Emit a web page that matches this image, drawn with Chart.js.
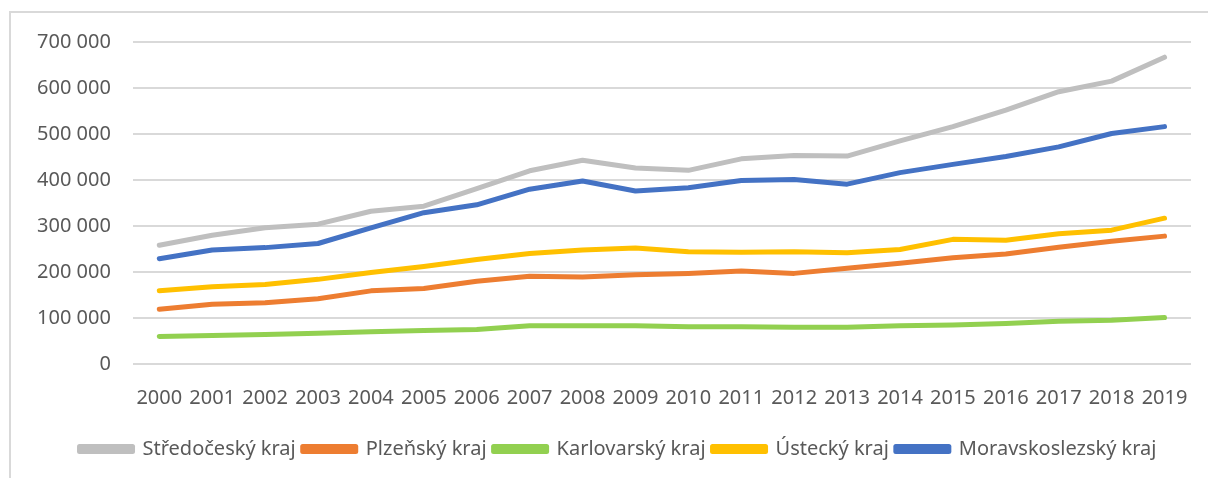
<!DOCTYPE html>
<html>
<head>
<meta charset="utf-8">
<script src="https://cdn.jsdelivr.net/npm/chart.js@4"></script>
<style>
    html, body { margin: 0; padding: 0; background: #fff; overflow: hidden; }
    #frame {
        position: absolute; left: 9px; top: 11px; width: 1216px; height: 480px;
        border-left: 2px solid #d9d9d9; border-top: 2px solid #d9d9d9;
    }
    #wrap { position: absolute; left: 0; top: -5px; width: 1214px; height: 472px; }
</style>
</head>
<body>
<div id="frame"><div id="wrap"><canvas id="chart"></canvas></div></div>
<script>
const years = ['2000', '2001', '2002', '2003', '2004', '2005', '2006', '2007', '2008', '2009',
    '2010', '2011', '2012', '2013', '2014', '2015', '2016', '2017', '2018', '2019'];

const stredocesky = [258000, 280000, 296000, 304000, 332000, 343000, 381000, 420000, 443000, 426000,
    421000, 446000, 453000, 452000, 485000, 516000, 552000, 592000, 615000, 667000];
const plzensky = [119000, 130000, 133000, 142000, 159000, 164000, 180000, 191000, 189000, 194000,
    197000, 202000, 197000, 208000, 219000, 231000, 239000, 254000, 267000, 278000];
const karlovarsky = [60000, 62000, 64000, 67000, 70000, 73000, 75000, 83000, 83000, 83000,
    81000, 81000, 80000, 80000, 83000, 85000, 88000, 93000, 95000, 101000];
const ustecky = [159000, 168000, 173000, 184000, 199000, 212000, 227000, 240000, 248000, 252000,
    244000, 243000, 244000, 242000, 249000, 271000, 269000, 283000, 291000, 317000];
const moravskoslezsky = [229000, 248000, 253000, 262000, 296000, 329000, 346000, 380000, 398000, 376000,
    383000, 399000, 401000, 391000, 416000, 434000, 451000, 472000, 501000, 516000];

const seriesNames = ['Středočeský kraj', 'Plzeňský kraj', 'Karlovarský kraj', 'Ústecký kraj', 'Moravskoslezský kraj'];
const seriesColors = ['#bfbfbf', '#ed7d31', '#92d050', '#ffc000', '#4472c4'];
const seriesData = [stredocesky, plzensky, karlovarsky, ustecky, moravskoslezsky];

const textColor = '#595959';

function line(i) {
    return {
        label: seriesNames[i],
        data: seriesData[i],
        borderColor: seriesColors[i],
        backgroundColor: seriesColors[i],
        borderWidth: 5,
        borderCapStyle: 'round',
        borderJoinStyle: 'round',
        pointRadius: 0,
        tension: 0,
        order: seriesNames.length - i   // later series drawn on top, like Excel
    };
}

// legend in the original sits a bit right of the canvas centre
const legendShift = {
    id: 'legendShift',
    afterLayout(chart) {
        chart.legend.left += 15;
        chart.legend.right += 15;
    }
};

const ctx = document.getElementById('chart').getContext('2d');
new Chart(ctx, {
    type: 'line',
    data: {
        labels: years,
        datasets: seriesNames.map((n, i) => line(i))
    },
    plugins: [legendShift],
    options: {
        responsive: true,
        maintainAspectRatio: false,
        animation: false,
        layout: { padding: { left: 4, right: 34, top: 13, bottom: 11 } },
        font: { family: '"Noto Sans", sans-serif' },
        plugins: {
            tooltip: { enabled: false },
            legend: {
                position: 'bottom',
                labels: {
                    color: textColor,
                    font: { family: '"Noto Sans", sans-serif', size: 20 },
                    boxWidth: 53,
                    boxHeight: 5,
                    padding: 7,
                    sort: (a, b) => a.datasetIndex - b.datasetIndex
                }
            }
        },
        scales: {
            x: {
                offset: true,
                grid: { display: false, drawTicks: false },
                border: { display: false },
                ticks: {
                    color: textColor,
                    font: { family: '"Noto Sans", sans-serif', size: 20 },
                    padding: 22,
                    maxRotation: 0,
                    autoSkip: false
                }
            },
            y: {
                min: 0,
                max: 700000,
                grid: { color: '#d9d9d9', lineWidth: 2, drawTicks: false },
                border: { display: false },
                ticks: {
                    stepSize: 100000,
                    color: textColor,
                    font: { family: '"Noto Sans", sans-serif', size: 20 },
                    padding: 22,
                    callback: v => v.toString().replace(/\B(?=(\d{3})+(?!\d))/g, ' ')
                }
            }
        }
    }
});
</script>
</body>
</html>
